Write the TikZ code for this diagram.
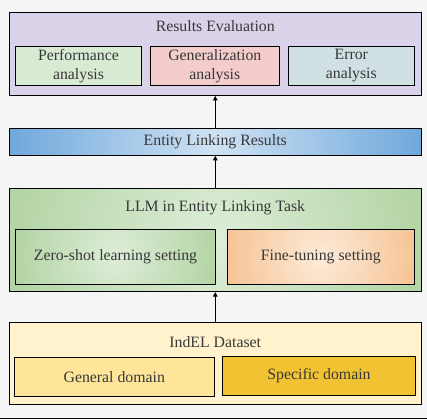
\documentclass[tikz,border=0pt]{standalone}
\usepackage{fontspec}
\setmainfont{Liberation Serif}
\usetikzlibrary{arrows.meta}
\definecolor{bg}{HTML}{F5F5F5}
\definecolor{txt}{HTML}{383838}
\definecolor{lav}{HTML}{DAD2E9}
\definecolor{perf}{HTML}{D9EAD3}
\definecolor{gen}{HTML}{F4CCCC}
\definecolor{err}{HTML}{D0E0E3}
\definecolor{blueE}{HTML}{6FA8DC}
\definecolor{blueM}{HTML}{CFE2F3}
\definecolor{yel}{HTML}{FFF2CC}
\definecolor{yelG}{HTML}{FFE599}
\definecolor{yelS}{HTML}{F1C232}
\pgfdeclareradialshading{greenrad}{\pgfpointorigin}{rgb(0bp)=(0.87,0.93,0.85); rgb(45bp)=(0.56,0.75,0.47); rgb(50bp)=(0.56,0.75,0.47)}
\pgfdeclareradialshading{orangerad}{\pgfpointorigin}{rgb(0bp)=(0.99,0.92,0.85); rgb(45bp)=(0.94,0.64,0.36); rgb(50bp)=(0.94,0.64,0.36)}
\tikzset{
  box/.style={draw=black, line width=0.9pt, rectangle, inner sep=0pt, text=txt, align=center, font=\fontsize{15.8}{19}\selectfont},
  lbl/.style={inner sep=0pt, text=txt, font=\fontsize{15.8}{19}\selectfont},
  arr/.style={draw=black, line width=0.9pt, -{Triangle[length=4.5pt,width=4.5pt]}},
  radshade/.style 2 args={path picture={\shade[shading=#1] (path picture bounding box.center) circle[radius=#2];}},
}
\begin{document}
\begin{tikzpicture}[x=1pt,y=-1pt]
\useasboundingbox[fill=bg] (0,0) rectangle (427,419);
% Results evaluation
\node[box, fill=lav, minimum width=412.5pt, minimum height=83.2pt] (re) at (215.25,53.9) {};
\node[lbl] (ret) at (215.25,26.5) {Results Evaluation};
\node[box, fill=perf, minimum width=126.4pt, minimum height=39pt] (perf) at (78.5,65.8) {Performance\\analysis};
\node[box, fill=gen, minimum width=129pt, minimum height=39pt] (gen) at (214.8,65.8) {Generalization\\analysis};
\node[box, fill=err, minimum width=126.7pt, minimum height=39pt] (err) at (351.3,65.8) {Error\\analysis};
% Entity linking results
\node[box, left color=blueE, right color=blueE, middle color=blueM, minimum width=412.5pt, minimum height=27.3pt] (elr) at (215.25,141.7) {Entity Linking Results};
% LLM
\node[box, radshade={greenrad}{212.5pt}, minimum width=412.5pt, minimum height=102.7pt] (llm) at (215.25,240.3) {};
\node[lbl] (llmt) at (215.25,207.7) {LLM in Entity Linking Task};
\node[box, radshade={greenrad}{103.9pt}, minimum width=200.4pt, minimum height=55pt] (zero) at (115.5,256.8) {Zero-shot learning setting};
\node[box, radshade={orangerad}{97.8pt}, minimum width=187.7pt, minimum height=55pt] (fine) at (320.8,256.8) {Fine-tuning setting};
% IndEL
\node[box, fill=yel, minimum width=412.5pt, minimum height=82pt] (ind) at (215.25,363.3) {};
\node[lbl] (indt) at (215.25,341.7) {IndEL Dataset};
\node[box, fill=yelG, minimum width=200pt, minimum height=39pt] (gd) at (114.3,377.2) {General domain};
\node[box, fill=yelS, minimum width=193.4pt, minimum height=39pt] (sd) at (319,375.8) {Specific domain};
% arrows
\draw[arr] (elr.north) -- (re.south);
\draw[arr] (llm.north) -- (elr.south);
\draw[arr] (ind.north) -- (llm.south);
% bottom rule
\draw[line width=0.9pt] (0,418) -- (427,418);
\end{tikzpicture}
\end{document}
